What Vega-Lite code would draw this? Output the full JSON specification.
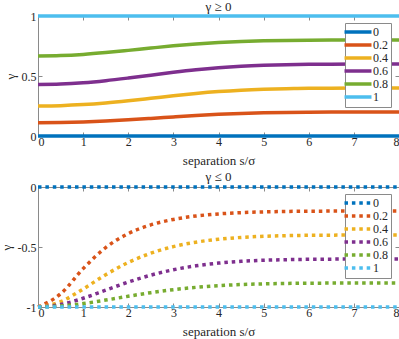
{
"$schema": "https://vega.github.io/schema/vega-lite/v6.json",
"padding": {"left": -1, "top": 0, "right": 0, "bottom": 0},
"bounds": "flush",
"spacing": 51,
"config": {
  "font": "Liberation Serif",
  "view": {"stroke": "#8a8a8a", "strokeWidth": 1},
  "axis": {"domainColor": "#8a8a8a", "tickColor": "#8a8a8a", "tickSize": -4, "labelPadding": 6, "labelFontSize": 12, "labelColor": "#262626", "titleColor": "#262626", "titleFontSize": 13, "titleFontWeight": "normal", "grid": false, "labelFont": "Liberation Serif", "titleFont": "Liberation Serif", "format": "~g", "minExtent": 0},
  "title": {"fontSize": 13, "fontWeight": "normal", "font": "Liberation Serif", "color": "#262626"},
  "legend": {"labelFont": "Liberation Serif", "labelFontSize": 12, "labelColor": "#262626"}
},
"datasets": {
"top": [
{"s":0,"g":0,"p":"0"},{"s":8,"g":0,"p":"0"},
{"s":0,"g":0.1111,"p":"0.2"},{"s":0.5,"g":0.1127,"p":"0.2"},{"s":1,"g":0.1172,"p":"0.2"},{"s":1.5,"g":0.1247,"p":"0.2"},{"s":2,"g":0.1347,"p":"0.2"},{"s":2.5,"g":0.1464,"p":"0.2"},{"s":3,"g":0.1588,"p":"0.2"},{"s":3.5,"g":0.1705,"p":"0.2"},{"s":4,"g":0.1805,"p":"0.2"},{"s":4.5,"g":0.188,"p":"0.2"},{"s":5,"g":0.1932,"p":"0.2"},{"s":5.5,"g":0.1964,"p":"0.2"},{"s":6,"g":0.1982,"p":"0.2"},{"s":6.5,"g":0.1992,"p":"0.2"},{"s":7,"g":0.1997,"p":"0.2"},{"s":7.5,"g":0.1999,"p":"0.2"},{"s":8,"g":0.2,"p":"0.2"},
{"s":0,"g":0.25,"p":"0.4"},{"s":0.5,"g":0.2529,"p":"0.4"},{"s":1,"g":0.2615,"p":"0.4"},{"s":1.5,"g":0.2753,"p":"0.4"},{"s":2,"g":0.2933,"p":"0.4"},{"s":2.5,"g":0.3138,"p":"0.4"},{"s":3,"g":0.3348,"p":"0.4"},{"s":3.5,"g":0.3541,"p":"0.4"},{"s":4,"g":0.37,"p":"0.4"},{"s":4.5,"g":0.3818,"p":"0.4"},{"s":5,"g":0.3897,"p":"0.4"},{"s":5.5,"g":0.3946,"p":"0.4"},{"s":6,"g":0.3974,"p":"0.4"},{"s":6.5,"g":0.3988,"p":"0.4"},{"s":7,"g":0.3995,"p":"0.4"},{"s":7.5,"g":0.3998,"p":"0.4"},{"s":8,"g":0.3999,"p":"0.4"},
{"s":0,"g":0.4286,"p":"0.6"},{"s":0.5,"g":0.4324,"p":"0.6"},{"s":1,"g":0.4435,"p":"0.6"},{"s":1.5,"g":0.4609,"p":"0.6"},{"s":2,"g":0.4829,"p":"0.6"},{"s":2.5,"g":0.5071,"p":"0.6"},{"s":3,"g":0.531,"p":"0.6"},{"s":3.5,"g":0.5522,"p":"0.6"},{"s":4,"g":0.5692,"p":"0.6"},{"s":4.5,"g":0.5815,"p":"0.6"},{"s":5,"g":0.5896,"p":"0.6"},{"s":5.5,"g":0.5946,"p":"0.6"},{"s":6,"g":0.5974,"p":"0.6"},{"s":6.5,"g":0.5988,"p":"0.6"},{"s":7,"g":0.5995,"p":"0.6"},{"s":7.5,"g":0.5998,"p":"0.6"},{"s":8,"g":0.5999,"p":"0.6"},
{"s":0,"g":0.6667,"p":"0.8"},{"s":0.5,"g":0.6701,"p":"0.8"},{"s":1,"g":0.68,"p":"0.8"},{"s":1.5,"g":0.6951,"p":"0.8"},{"s":2,"g":0.7135,"p":"0.8"},{"s":2.5,"g":0.7329,"p":"0.8"},{"s":3,"g":0.7512,"p":"0.8"},{"s":3.5,"g":0.7668,"p":"0.8"},{"s":4,"g":0.7789,"p":"0.8"},{"s":4.5,"g":0.7875,"p":"0.8"},{"s":5,"g":0.793,"p":"0.8"},{"s":5.5,"g":0.7964,"p":"0.8"},{"s":6,"g":0.7982,"p":"0.8"},{"s":6.5,"g":0.7992,"p":"0.8"},{"s":7,"g":0.7997,"p":"0.8"},{"s":7.5,"g":0.7999,"p":"0.8"},{"s":8,"g":0.8,"p":"0.8"},
{"s":0,"g":1,"p":"1"},{"s":8,"g":1,"p":"1"}
],
"bottom": [
{"s":0,"g":0,"p":"0"},{"s":8,"g":0,"p":"0"},
{"s":0,"g":-1,"p":"0.2"},{"s":0.5,"g":-0.8904,"p":"0.2"},{"s":1,"g":-0.6803,"p":"0.2"},{"s":1.5,"g":-0.5049,"p":"0.2"},{"s":2,"g":-0.3885,"p":"0.2"},{"s":2.5,"g":-0.3156,"p":"0.2"},{"s":3,"g":-0.2702,"p":"0.2"},{"s":3.5,"g":-0.2418,"p":"0.2"},{"s":4,"g":-0.2243,"p":"0.2"},{"s":4.5,"g":-0.2136,"p":"0.2"},{"s":5,"g":-0.2073,"p":"0.2"},{"s":5.5,"g":-0.2037,"p":"0.2"},{"s":6,"g":-0.2018,"p":"0.2"},{"s":6.5,"g":-0.2008,"p":"0.2"},{"s":7,"g":-0.2004,"p":"0.2"},{"s":7.5,"g":-0.2001,"p":"0.2"},{"s":8,"g":-0.2,"p":"0.2"},
{"s":0,"g":-1,"p":"0.4"},{"s":0.5,"g":-0.9559,"p":"0.4"},{"s":1,"g":-0.8502,"p":"0.4"},{"s":1.5,"g":-0.7311,"p":"0.4"},{"s":2,"g":-0.6289,"p":"0.4"},{"s":2.5,"g":-0.5515,"p":"0.4"},{"s":3,"g":-0.4968,"p":"0.4"},{"s":3.5,"g":-0.4596,"p":"0.4"},{"s":4,"g":-0.4354,"p":"0.4"},{"s":4.5,"g":-0.4201,"p":"0.4"},{"s":5,"g":-0.4108,"p":"0.4"},{"s":5.5,"g":-0.4055,"p":"0.4"},{"s":6,"g":-0.4027,"p":"0.4"},{"s":6.5,"g":-0.4012,"p":"0.4"},{"s":7,"g":-0.4005,"p":"0.4"},{"s":7.5,"g":-0.4002,"p":"0.4"},{"s":8,"g":-0.4001,"p":"0.4"},
{"s":0,"g":-1,"p":"0.6"},{"s":0.5,"g":-0.9799,"p":"0.6"},{"s":1,"g":-0.9274,"p":"0.6"},{"s":1.5,"g":-0.8595,"p":"0.6"},{"s":2,"g":-0.7922,"p":"0.6"},{"s":2.5,"g":-0.7345,"p":"0.6"},{"s":3,"g":-0.6896,"p":"0.6"},{"s":3.5,"g":-0.6568,"p":"0.6"},{"s":4,"g":-0.6343,"p":"0.6"},{"s":4.5,"g":-0.6197,"p":"0.6"},{"s":5,"g":-0.6107,"p":"0.6"},{"s":5.5,"g":-0.6055,"p":"0.6"},{"s":6,"g":-0.6027,"p":"0.6"},{"s":6.5,"g":-0.6012,"p":"0.6"},{"s":7,"g":-0.6005,"p":"0.6"},{"s":7.5,"g":-0.6002,"p":"0.6"},{"s":8,"g":-0.6001,"p":"0.6"},
{"s":0,"g":-1,"p":"0.8"},{"s":0.5,"g":-0.9924,"p":"0.8"},{"s":1,"g":-0.9715,"p":"0.8"},{"s":1.5,"g":-0.9423,"p":"0.8"},{"s":2,"g":-0.9105,"p":"0.8"},{"s":2.5,"g":-0.8806,"p":"0.8"},{"s":3,"g":-0.8556,"p":"0.8"},{"s":3.5,"g":-0.8362,"p":"0.8"},{"s":4,"g":-0.8223,"p":"0.8"},{"s":4.5,"g":-0.8129,"p":"0.8"},{"s":5,"g":-0.8071,"p":"0.8"},{"s":5.5,"g":-0.8037,"p":"0.8"},{"s":6,"g":-0.8018,"p":"0.8"},{"s":6.5,"g":-0.8008,"p":"0.8"},{"s":7,"g":-0.8004,"p":"0.8"},{"s":7.5,"g":-0.8001,"p":"0.8"},{"s":8,"g":-0.8001,"p":"0.8"},
{"s":0,"g":-1,"p":"1"},{"s":8,"g":-1,"p":"1"}
]
},
"vconcat": [
{
  "title": {"text": "γ ≥ 0", "offset": -4.5},
  "width": 361, "height": 120,
  "data": {"name": "top"},
  "layer": [
    {"mark": {"type": "line", "strokeWidth": 3.5, "clip": false, "interpolate": "monotone"},
     "encoding": {
       "x": {"field": "s", "type": "quantitative", "scale": {"domain": [0, 8], "nice": false}, "axis": {"values": [0,1,2,3,4,5,6,7,8], "title": "separation s/σ", "titlePadding": 7, "labelPadding": 4}},
       "y": {"field": "g", "type": "quantitative", "scale": {"domain": [0, 1], "nice": false}, "axis": {"values": [0, 0.5, 1], "title": "γ", "titlePadding": 4}},
       "color": {"field": "p", "type": "nominal", "scale": {"domain": ["0","0.2","0.4","0.6","0.8","1"], "range": ["#0072BD","#D95319","#EDB120","#7E2F8E","#77AC30","#4DBEEE"]},
         "legend": {"title": null, "orient": "none", "legendX": 307, "legendY": 7, "symbolType": "M-6.75,0H6.75", "symbolSize": 16, "symbolStrokeWidth": 3.5, "symbolOffset": 4, "strokeColor": "#8a8a8a", "fillColor": "white", "padding": 3, "labelOffset": 9, "rowPadding": -1.6}}
     }},
    {"mark": {"type": "line", "opacity": 0},
     "encoding": {
       "x": {"field": "s", "type": "quantitative", "axis": {"orient": "top", "values": [0,1,2,3,4,5,6,7,8], "labels": false, "labelPadding": 0, "domain": false, "title": null, "maxExtent": 0}},
       "y": {"field": "g", "type": "quantitative", "axis": {"orient": "right", "values": [0, 0.5, 1], "labels": false, "labelPadding": 0, "domain": false, "title": null, "maxExtent": 0}}
     }}
  ],
  "resolve": {"axis": {"x": "independent", "y": "independent"}}
},
{
  "title": {"text": "γ ≤ 0", "offset": -3.5},
  "width": 361, "height": 120,
  "data": {"name": "bottom"},
  "layer": [
    {"mark": {"type": "line", "strokeWidth": 3.5, "strokeDash": [3.5, 3.9], "clip": false, "interpolate": "monotone"},
     "encoding": {
       "x": {"field": "s", "type": "quantitative", "scale": {"domain": [0, 8], "nice": false}, "axis": {"values": [0,1,2,3,4,5,6,7,8], "title": "separation s/σ", "titlePadding": 7, "labelPadding": 4}},
       "y": {"field": "g", "type": "quantitative", "scale": {"domain": [-1, 0], "nice": false}, "axis": {"values": [-1, -0.5, 0], "title": "γ", "titlePadding": 4, "labelExpr": "replace(datum.label, '−', '-')"}},
       "color": {"field": "p", "type": "nominal", "scale": {"domain": ["0","0.2","0.4","0.6","0.8","1"], "range": ["#0072BD","#D95319","#EDB120","#7E2F8E","#77AC30","#4DBEEE"]},
         "legend": {"title": null, "orient": "none", "legendX": 307, "legendY": 7, "symbolType": "M-6.75,0H6.75", "symbolSize": 16, "symbolStrokeWidth": 3.5, "symbolOffset": 4, "symbolDash": [3.5, 3.9], "strokeColor": "#8a8a8a", "fillColor": "white", "padding": 3, "labelOffset": 9, "rowPadding": -1.6}}
     }},
    {"mark": {"type": "line", "opacity": 0},
     "encoding": {
       "x": {"field": "s", "type": "quantitative", "axis": {"orient": "top", "values": [0,1,2,3,4,5,6,7,8], "labels": false, "labelPadding": 0, "domain": false, "title": null, "maxExtent": 0}},
       "y": {"field": "g", "type": "quantitative", "axis": {"orient": "right", "values": [-1, -0.5, 0], "labels": false, "labelPadding": 0, "domain": false, "title": null, "maxExtent": 0}}
     }}
  ],
  "resolve": {"axis": {"x": "independent", "y": "independent"}}
}
],
"resolve": {"scale": {"color": "independent"}}
}
